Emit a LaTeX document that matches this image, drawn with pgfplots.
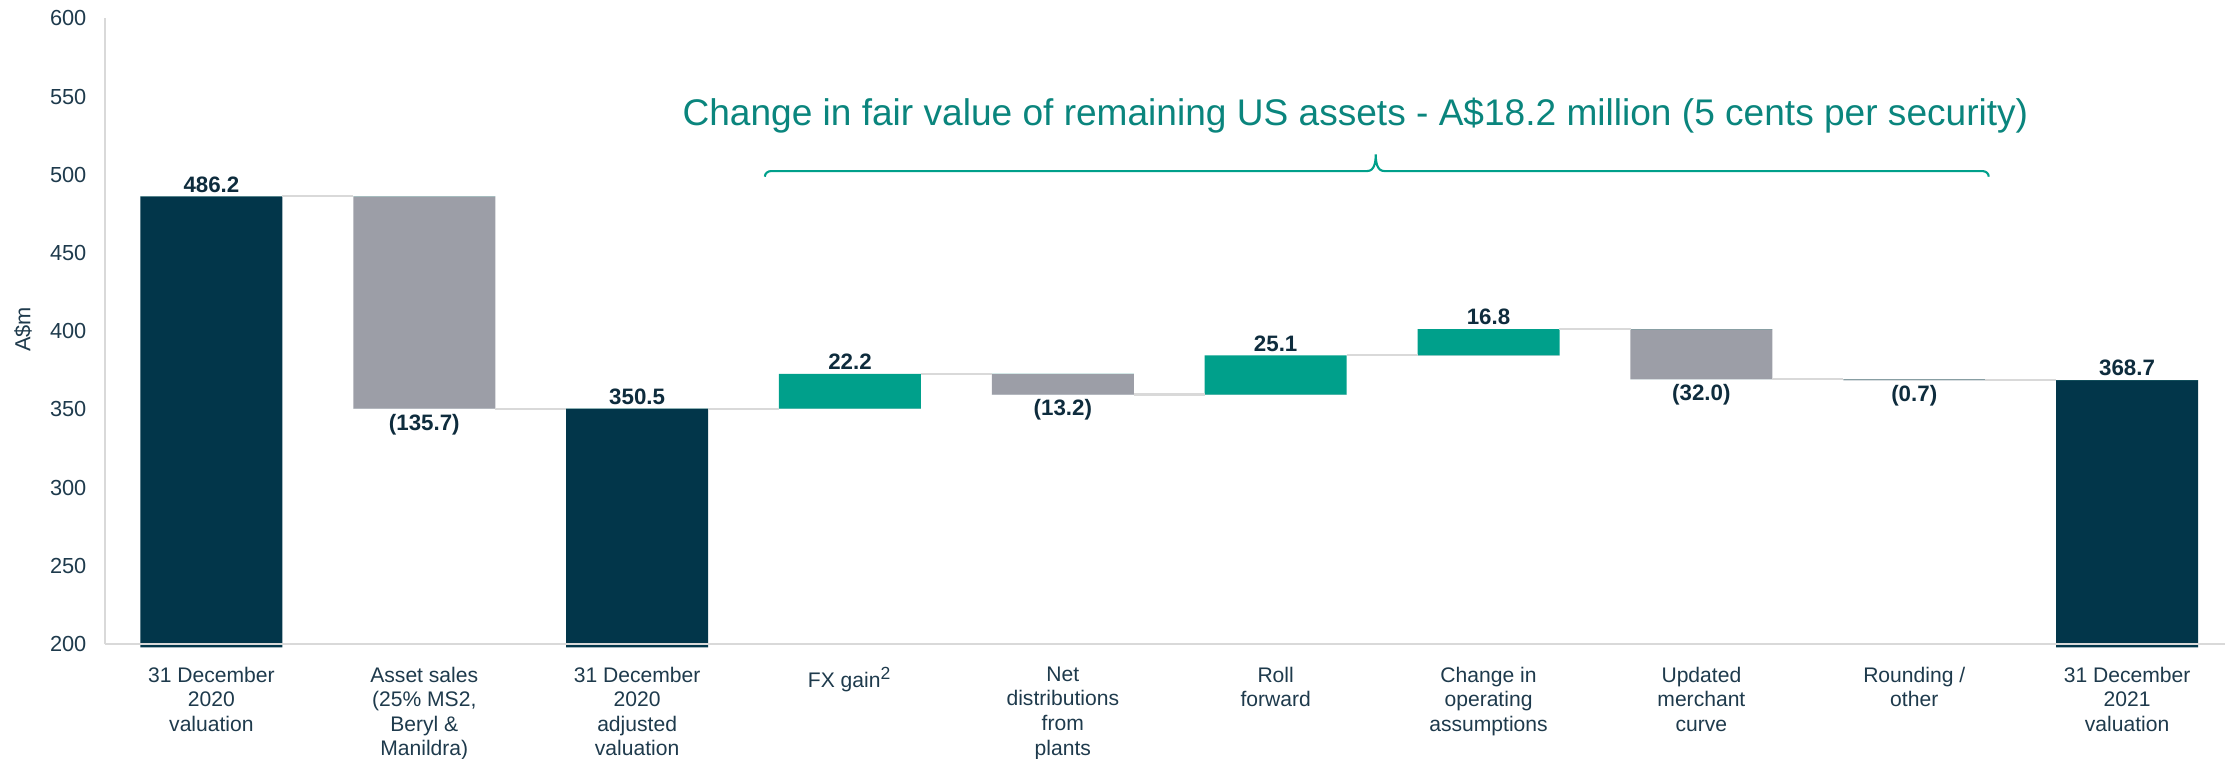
\documentclass[border=0pt]{standalone}
\usepackage{pgfplots}
\usepackage{pgfplotstable}
\pgfplotsset{compat=1.18}
\usepackage{fontspec}
\setmainfont{Liberation Sans}
\definecolor{navy}{HTML}{02364A}
\definecolor{wgrey}{HTML}{9C9EA7}
\definecolor{wteal}{HTML}{00A08B}
\definecolor{tteal}{HTML}{0A857D}
\definecolor{axgrey}{HTML}{D9D9D9}
\definecolor{lbl}{HTML}{1E3A4C}
\definecolor{vlbl}{HTML}{0E2C3D}

\pgfplotstableread{
x base total down up
0 197.8 288.4 0     0
1 350.5 0     135.7 0
2 197.8 152.7 0     0
3 350.5 0     0     22.2
4 359.5 0     13.2  0
5 359.5 0     0     25.1
6 384.6 0     0     16.8
7 369.4 0     32.0  0
8 368.7 0     0.7   0
9 197.8 170.9 0     0
}\wf

\pgfplotstableread{
x y
0.333 486.2
0.667 486.2
nan nan
1.333 350.5
1.667 350.5
nan nan
2.333 350.5
2.667 350.5
nan nan
3.333 372.7
3.667 372.7
nan nan
4.333 359.5
4.667 359.5
nan nan
5.333 384.6
5.667 384.6
nan nan
6.333 401.4
6.667 401.4
nan nan
7.333 369.4
7.667 369.4
nan nan
8.333 368.7
8.667 368.7
}\conn

\begin{document}
\begin{tikzpicture}
\begin{axis}[
  scale only axis, width=21.2cm, height=6.256cm,
  xmin=-0.5, xmax=9.46, ymin=200, ymax=600,
  clip=false, axis on top,
  ytick={200,250,...,600},
  xtick={0,...,9},
  xticklabels={{31 December\\2020\\valuation},{Asset sales\\(25\% MS2,\\Beryl \&\\Manildra)},{31 December\\2020\\adjusted\\valuation},{FX gain\textsuperscript{2}},{Net\\distributions\\from\\plants},{Roll\\forward},{Change in\\operating\\assumptions},{Updated\\merchant\\curve},{Rounding /\\other},{31 December\\2021\\valuation}},
  axis x line*=bottom, axis y line*=left,
  axis line style={draw=axgrey, line width=0.6pt, -},
  major tick length=0pt,
  /pgf/number format/assume math mode=true,
  yticklabel style={font=\fontsize{6.2}{7}\selectfont, text=lbl, anchor=east, inner sep=0pt, xshift=-5.1pt},
  xticklabel style={font=\fontsize{6}{7}\selectfont, text=lbl, align=center, anchor=north, inner sep=0pt, yshift=-6.3pt},
  ylabel={A\$m},
  ylabel style={font=\fontsize{6.2}{7}\selectfont, text=lbl, at={(axis description cs:-0.0387,0.503)}, anchor=center},
  unbounded coords=jump,
]
\addplot[ybar, stack plots=y, bar shift=0pt, bar width=0.667, draw=none, fill=none] table[x=x,y=base]{\wf};
\addplot[ybar, stack plots=y, bar shift=0pt, bar width=0.667, draw=none, fill=navy] table[x=x,y=total]{\wf};
\addplot[ybar, stack plots=y, bar shift=0pt, bar width=0.667, draw=none, fill=wgrey] table[x=x,y=down]{\wf};
\addplot[ybar, stack plots=y, bar shift=0pt, bar width=0.667, draw=none, fill=wteal] table[x=x,y=up]{\wf};
\addplot[draw=axgrey, line width=0.6pt, mark=none] table[x=x,y=y]{\conn};

\tikzset{vpos/.style={font=\bfseries\fontsize{6.35}{7}\selectfont, text=vlbl, inner sep=0pt, anchor=base, yshift=1.2pt},
         vneg/.style={font=\bfseries\fontsize{6.35}{7}\selectfont, text=vlbl, inner sep=0pt, anchor=north, yshift=-1.3pt}}
\node[vpos] at (axis cs:0,486.2) {486.2};
\node[vneg] at (axis cs:1,350.5) {(135.7)};
\node[vpos] at (axis cs:2,350.5) {350.5};
\node[vpos] at (axis cs:3,372.7) {22.2};
\node[vneg] at (axis cs:4,359.5) {(13.2)};
\node[vpos] at (axis cs:5,384.6) {25.1};
\node[vpos] at (axis cs:6,401.4) {16.8};
\node[vneg] at (axis cs:7,369.4) {(32.0)};
\node[vneg] at (axis cs:8,368.7) {(0.7)};
\node[vpos] at (axis cs:9,368.7) {368.7};

\node[anchor=base west, font=\fontsize{10.55}{12}\selectfont, text=tteal, inner sep=0pt] at (axis cs:2.21,531.8) {Change in fair value of remaining US assets - A\$18.2 million (5 cents per security)};
\draw[wteal, line width=0.6pt] (axis cs:2.60,498.8) to[out=90,in=180] (axis cs:2.63,502.4) -- (axis cs:5.43,502.4) to[out=0,in=270] (axis cs:5.47,513) to[out=270,in=180] (axis cs:5.51,502.4) -- (axis cs:8.32,502.4) to[out=0,in=90] (axis cs:8.35,498.8);
\end{axis}
\pgfresetboundingbox
\path ([shift={(-1.05cm,-1.15cm)}]current axis.south west) rectangle ([shift={(0.14cm,0.184cm)}]current axis.north east);
\end{tikzpicture}
\end{document}
